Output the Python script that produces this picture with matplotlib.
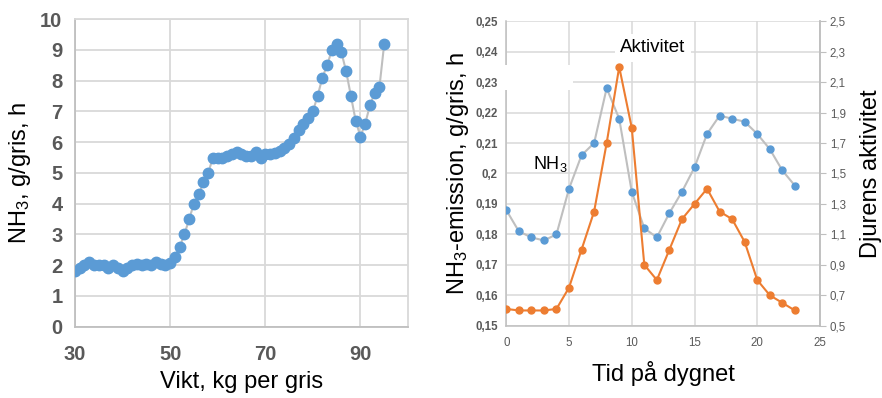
import numpy as np
import matplotlib
matplotlib.use("Agg")
import matplotlib.pyplot as plt
from matplotlib.patches import Rectangle

plt.rcParams['font.family'] = ['Liberation Sans', 'DejaVu Sans']
plt.rcParams['mathtext.fontset'] = 'custom'
plt.rcParams['mathtext.rm'] = 'Liberation Sans'
plt.rcParams['mathtext.it'] = 'Liberation Sans'

# left chart: NH3 per pig vs weight
vikt = list(range(30, 96))
nh3_vikt = [1.8, 1.9, 2.0, 2.1, 2.0, 2.0, 2.0, 1.9, 2.0, 1.9,
            1.8, 1.9, 2.0, 2.05, 2.0, 2.05, 2.0, 2.1, 2.05, 2.0,
            2.08, 2.27, 2.6, 3.0, 3.5, 4.0, 4.3, 4.7, 5.0, 5.5,
            5.5, 5.5, 5.55, 5.6, 5.67, 5.6, 5.56, 5.54, 5.67, 5.5,
            5.6, 5.62, 5.65, 5.72, 5.82, 5.94, 6.13, 6.38, 6.6, 6.8,
            7.0, 7.5, 8.1, 8.5, 9.0, 9.2, 8.92, 8.3, 7.5, 6.7,
            6.18, 6.6, 7.2, 7.6, 7.8, 9.2]

# right chart: diurnal NH3 emission and activity
timme = list(range(24))
nh3_tid = [0.188, 0.181, 0.179, 0.178, 0.180, 0.195, 0.206, 0.210, 0.228, 0.218,
           0.194, 0.182, 0.179, 0.187, 0.194, 0.202, 0.213, 0.219, 0.218, 0.217,
           0.213, 0.208, 0.201, 0.196]
aktivitet = [0.61, 0.60, 0.60, 0.60, 0.61, 0.75, 1.00, 1.25, 1.70, 2.20,
             1.80, 0.90, 0.80, 1.00, 1.20, 1.30, 1.40, 1.25, 1.20, 1.05,
             0.80, 0.70, 0.65, 0.60]

blue = '#5b9bd5'
orange = '#ed7d31'
line_gray = '#bfbfbf'
grid_gray = '#d9d9d9'
tick_gray = '#595959'

fig = plt.figure(figsize=(8.82, 3.98), dpi=100)

# ---- left
ax1 = fig.add_axes([0.085, 0.179, 0.3776, 0.773])
ax1.plot(vikt, nh3_vikt, color=line_gray, lw=1.5, marker='o', ms=7.5,
         mfc=blue, mec=blue, zorder=3)
ax1.set_xlim(30, 100)
ax1.set_ylim(0, 10)
ax1.set_xticks([30, 50, 70, 90])
ax1.set_yticks(range(0, 11))
ax1.grid(True, color=grid_gray, lw=1.3)
ax1.set_axisbelow(True)
for s in ax1.spines.values():
    s.set_color(grid_gray)
    s.set_linewidth(1.3)
ax1.spines['left'].set_color(line_gray)
ax1.spines['bottom'].set_color(line_gray)
ax1.tick_params(length=0, labelsize=14.5, labelcolor=tick_gray)
ax1.tick_params(axis='x', pad=13)
ax1.tick_params(axis='y', pad=9)
for lab in ax1.get_xticklabels() + ax1.get_yticklabels():
    lab.set_fontweight('bold')
ax1.set_xlabel('Vikt, kg per gris', fontsize=17, labelpad=5)
ax1.set_ylabel(r'NH$\mathregular{_3}$, g/gris, h', fontsize=17, labelpad=5)

# ---- right
ax2 = fig.add_axes([0.574, 0.1817, 0.3557, 0.7648])
ax2.plot(timme, nh3_tid, color=line_gray, lw=1.5, marker='o', ms=5,
         mfc=blue, mec=blue, zorder=3)
ax2.set_xlim(0, 25)
ax2.set_ylim(0.15, 0.25)
ax2.set_xticks(range(0, 26, 5))
yt = np.round(np.arange(0.15, 0.2501, 0.01), 2)
ax2.set_yticks(yt)
ax2.set_yticklabels([f'{v:g}'.replace('.', ',') for v in yt])
ax2.grid(True, color=grid_gray, lw=1.1)
ax2.set_axisbelow(True)
for s in ax2.spines.values():
    s.set_color(line_gray)
    s.set_linewidth(1.1)
ax2.spines['top'].set_visible(False)
ax2.tick_params(length=0, labelsize=8.3, labelcolor=tick_gray)
ax2.tick_params(axis='x', pad=8)
ax2.tick_params(axis='y', pad=6)
for lab in ax2.get_yticklabels():
    lab.set_fontweight('bold')
ax2.set_xlabel('Tid på dygnet', fontsize=17, labelpad=9)
ax2.set_ylabel(r'NH$\mathregular{_3}$-emission, g/gris, h', fontsize=17, labelpad=3)

ax2.add_patch(Rectangle((-0.3, 0.2274), 5.6, 0.0083, facecolor='white',
                        edgecolor='none', zorder=2.7, clip_on=False))
ax2.text(11.7, 0.2413, 'Aktivitet', fontsize=13.5, ha='center', va='center',
         bbox=dict(facecolor='white', edgecolor='none', pad=4), zorder=4)
ax2.text(3.5, 0.2031, r'NH$\mathregular{_3}$', fontsize=13, ha='center',
         va='center', zorder=4)

ax3 = ax2.twinx()
ax3.plot(timme, aktivitet, color=orange, lw=1.5, marker='o', ms=5,
         mfc=orange, mec=orange, zorder=3)
ax3.set_ylim(0.5, 2.5)
yt3 = np.round(np.arange(0.5, 2.501, 0.2), 1)
ax3.set_yticks(yt3)
ax3.set_yticklabels([f'{v:.1f}'.replace('.', ',') for v in yt3])
for s in ax3.spines.values():
    s.set_visible(False)
ax3.spines['right'].set_visible(True)
ax3.spines['right'].set_color(line_gray)
ax3.spines['right'].set_linewidth(1.1)
ax3.tick_params(axis='y', length=4, color=line_gray, labelsize=8.3,
                labelcolor=tick_gray, pad=3)
ax3.set_ylabel('Djurens aktivitet', fontsize=17, labelpad=10)

fig.savefig('out.png', dpi=100)
